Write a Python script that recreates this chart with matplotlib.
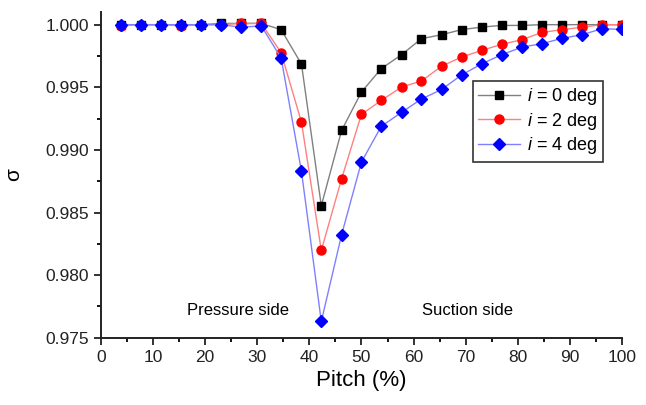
import matplotlib
matplotlib.use("Agg")
import matplotlib.pyplot as plt
from matplotlib.ticker import MultipleLocator

plt.rcParams['font.family'] = ['Liberation Sans', 'DejaVu Sans']
plt.rcParams['mathtext.fontset'] = 'custom'
plt.rcParams['mathtext.it'] = 'Liberation Sans:italic'
plt.rcParams['mathtext.rm'] = 'Liberation Sans'

# pitch positions (%)
pitch = [3.8, 7.7, 11.5, 15.4, 19.2, 23.1, 26.9, 30.8, 34.6, 38.5, 42.3, 46.2, 50.0,
         53.8, 57.7, 61.5, 65.4, 69.2, 73.1, 76.9, 80.8, 84.6, 88.5, 92.3, 96.2, 100.0]

sigma_i0 = [1.0000, 1.0000, 1.0000, 1.0000, 1.0000, 1.0001, 1.0001, 1.0001, 0.9996, 0.99685,
            0.98554, 0.99156, 0.99462, 0.99649, 0.99760, 0.99888, 0.99920, 0.99960, 0.99981,
            0.99994, 0.99994, 1.0000, 1.0000, 1.0000, 1.0000, 1.0000]
sigma_i2 = [0.9999, 1.0000, 1.0000, 0.9999, 1.0000, 1.0000, 1.0001, 1.0001, 0.99776, 0.99220,
            0.98197, 0.98770, 0.99284, 0.99395, 0.99502, 0.99550, 0.99669, 0.99741, 0.99795,
            0.99843, 0.99880, 0.99938, 0.99960, 0.99980, 1.0000, 1.0000]
sigma_i4 = [1.0000, 1.0000, 1.0000, 1.0000, 1.0000, 1.0000, 0.9998, 0.9999, 0.99733, 0.98828,
            0.97630, 0.98323, 0.98903, 0.99188, 0.99300, 0.99406, 0.99483, 0.99598, 0.99688,
            0.99760, 0.99821, 0.99848, 0.99891, 0.99920, 0.99968, 0.99962]

labels = ['$i$ = 0 deg', '$i$ = 2 deg', '$i$ = 4 deg']

fig = plt.figure(figsize=(6.46, 4.05), dpi=100)
ax = fig.add_axes([0.156, 0.166, 0.807, 0.804])

ax.plot(pitch, sigma_i0, '-s', color='#808080', lw=1, mfc='black', mec='black', ms=5.5, label=labels[0])
ax.plot(pitch, sigma_i2, '-o', color='#ff8080', lw=1, mfc='red', mec='red', ms=6.5, label=labels[1])
ax.plot(pitch, sigma_i4, '-D', color='#8080ff', lw=1, mfc='blue', mec='blue', ms=6, label=labels[2])

ax.set_xlim(0, 100)
ax.set_ylim(0.975, 1.001)
ax.xaxis.set_major_locator(MultipleLocator(10))
ax.xaxis.set_minor_locator(MultipleLocator(5))
ax.yaxis.set_major_locator(MultipleLocator(0.005))
ax.yaxis.set_minor_locator(MultipleLocator(0.0025))
ax.yaxis.set_major_formatter(matplotlib.ticker.FormatStrFormatter('%.3f'))
ax.tick_params(which='major', direction='out', length=5, width=1.3, labelsize=12.5, colors='#222222')
ax.tick_params(which='minor', direction='out', length=3, width=1.3)

for s in ['top', 'right']:
    ax.spines[s].set_visible(False)
for s in ['left', 'bottom']:
    ax.spines[s].set_linewidth(1.4)
    ax.spines[s].set_color('#222222')

ax.set_xlabel('Pitch (%)', fontsize=16, labelpad=4)
ax.set_ylabel('σ', fontsize=15, labelpad=16)

ax.text(26.3, 0.9772, 'Pressure side', ha='center', va='center', fontsize=12)
ax.text(70.4, 0.9772, 'Suction side', ha='center', va='center', fontsize=12)

leg = ax.legend(loc='upper left', bbox_to_anchor=(0.714, 0.79), fontsize=13,
                frameon=True, fancybox=False, edgecolor='black', handlelength=2.3,
                borderpad=0.3, labelspacing=0.2, handletextpad=0.4, borderaxespad=0)
leg.get_frame().set_linewidth(1.2)

fig.savefig('out.png', dpi=100)
